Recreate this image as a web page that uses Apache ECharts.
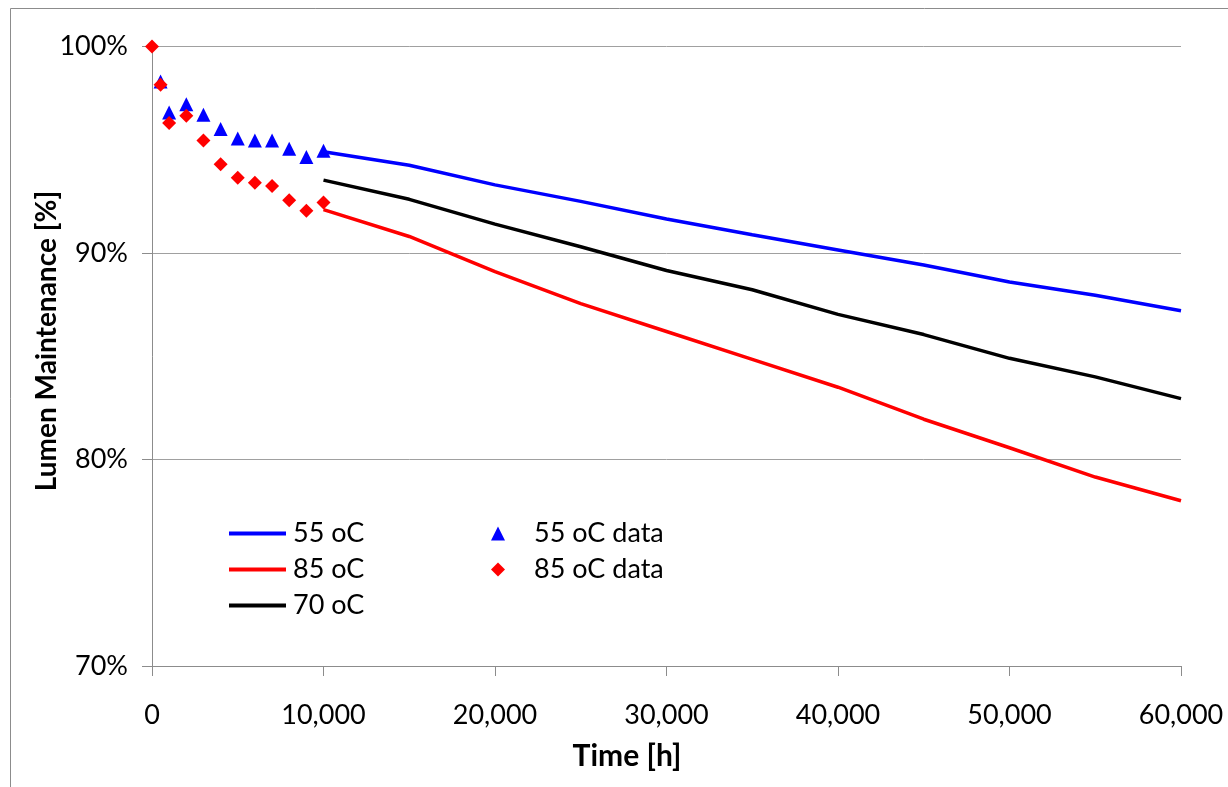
<!DOCTYPE html>
<html>
<head>
<meta charset="utf-8">
<title>Lumen Maintenance</title>
<script src="https://cdn.jsdelivr.net/npm/echarts@6/dist/echarts.min.js"></script>
<style>
  html, body { margin: 0; padding: 0; background: #fff; }
  #main { width: 1228px; height: 787px; }
</style>
</head>
<body>
<div id="main"></div>
<script type="text/javascript">
// 测量数据 (hours, %)
var dataHours = [500, 1000, 2000, 3000, 4000, 5000, 6000, 7000, 8000, 9000, 10000];
var data55 = [98.3, 96.8, 97.2, 96.7, 96.0, 95.55, 95.45, 95.45, 95.05, 94.65, 94.95];
var data85Hours = [0, 500, 1000, 2000, 3000, 4000, 5000, 6000, 7000, 8000, 9000, 10000];
var data85 = [100, 98.15, 96.3, 96.65, 95.45, 94.3, 93.65, 93.4, 93.25, 92.55, 92.05, 92.45];

// 预测曲线
var fitHours = [10000, 15000, 20000, 25000, 30000, 35000, 40000, 45000, 50000, 55000, 60000];
var fit55 = [94.9, 94.25, 93.3, 92.5, 91.65, 90.88, 90.15, 89.42, 88.6, 87.95, 87.2];
var fit85 = [92.1, 90.8, 89.1, 87.55, 86.2, 84.85, 83.5, 81.95, 80.57, 79.15, 78.0];
var fit70 = [93.53, 92.6, 91.4, 90.3, 89.15, 88.22, 87.03, 86.05, 84.9, 84.0, 82.95];

// 坐标轴刻度
var xTicks = [0, 10000, 20000, 30000, 40000, 50000, 60000];
var yTicks = [70, 80, 90, 100];

function pairs(xs, ys) {
  return xs.map(function (x, i) { return [x, ys[i]]; });
}

var FONT = 'Lato, "Liberation Sans", sans-serif';

var chart = echarts.init(document.getElementById('main'));

var option = {
  backgroundColor: '#fff',
  animation: false,
  textStyle: { fontFamily: FONT },
  grid: { left: 152, right: 47, top: 46.5, bottom: 121 },
  graphic: [
    { // 外框
      type: 'rect', silent: true,
      shape: { x: 10.5, y: 8.5, width: 1400, height: 900 },
      style: { fill: null, stroke: '#8c8c8c', lineWidth: 1 }
    },
    {
      type: 'text', x: 627, y: 756,
      style: { text: 'Time [h]', font: 'bold 30px ' + FONT, fill: '#000', align: 'center', verticalAlign: 'middle' }
    },
    {
      type: 'text', x: 47, y: 341, rotation: Math.PI / 2,
      style: { text: 'Lumen Maintenance [%]', font: 'bold 28px ' + FONT, fill: '#000', align: 'center', verticalAlign: 'middle' }
    }
  ],
  legend: [
    {
      data: [
        { name: '55 oC', icon: 'rect' },
        { name: '85 oC', icon: 'rect' },
        { name: '70 oC', icon: 'rect' }
      ],
      orient: 'vertical', left: 229, top: 520, padding: 0,
      itemWidth: 57, itemHeight: 4, itemGap: 9,
      textStyle: { fontSize: 27, color: '#000', fontFamily: FONT, padding: [0, 0, 0, 2] }
    },
    {
      data: ['55 oC data', '85 oC data'],
      orient: 'vertical', left: 491, top: 520, padding: 0,
      itemWidth: 14, itemHeight: 14, itemGap: 9,
      textStyle: { fontSize: 27, color: '#000', fontFamily: FONT, padding: [0, 0, 0, 24] }
    }
  ],
  xAxis: {
    type: 'value',
    min: xTicks[0], max: xTicks[xTicks.length - 1], interval: xTicks[1] - xTicks[0],
    axisLine: { show: true, lineStyle: { color: '#8c8c8c', width: 1 } },
    axisTick: { show: true, inside: false, length: 10, lineStyle: { color: '#8c8c8c' } },
    splitLine: { show: false },
    axisLabel: {
      margin: 36, fontSize: 27, color: '#000', fontFamily: FONT,
      formatter: function (v) { return v.toLocaleString('en-US'); }
    }
  },
  yAxis: {
    type: 'value',
    min: yTicks[0], max: yTicks[yTicks.length - 1], interval: yTicks[1] - yTicks[0],
    axisLine: { show: true, lineStyle: { color: '#8c8c8c', width: 1 } },
    axisTick: { show: true, inside: false, length: 10, lineStyle: { color: '#8c8c8c' } },
    splitLine: { show: true, lineStyle: { color: '#a0a0a0', width: 1 } },
    axisLabel: {
      margin: 24, fontSize: 27, color: '#000', fontFamily: FONT,
      formatter: '{value}%'
    }
  },
  series: [
    {
      name: '55 oC', type: 'line', data: pairs(fitHours, fit55),
      symbol: 'none', showSymbol: false,
      lineStyle: { color: '#0000ff', width: 3.5 }, itemStyle: { color: '#0000ff' }
    },
    {
      name: '85 oC', type: 'line', data: pairs(fitHours, fit85),
      symbol: 'none', showSymbol: false,
      lineStyle: { color: '#ff0000', width: 3.5 }, itemStyle: { color: '#ff0000' }
    },
    {
      name: '70 oC', type: 'line', data: pairs(fitHours, fit70),
      symbol: 'none', showSymbol: false,
      lineStyle: { color: '#000000', width: 3.5 }, itemStyle: { color: '#000000' }
    },
    {
      name: '55 oC data', type: 'scatter', data: pairs(dataHours, data55),
      symbol: 'triangle', symbolSize: [14, 14], clip: false,
      itemStyle: { color: '#0000ff', opacity: 1 }
    },
    {
      name: '85 oC data', type: 'scatter', data: pairs(data85Hours, data85),
      symbol: 'diamond', symbolSize: 14, clip: false,
      itemStyle: { color: '#ff0000', opacity: 1 }
    }
  ]
};

chart.setOption(option);
</script>
</body>
</html>
